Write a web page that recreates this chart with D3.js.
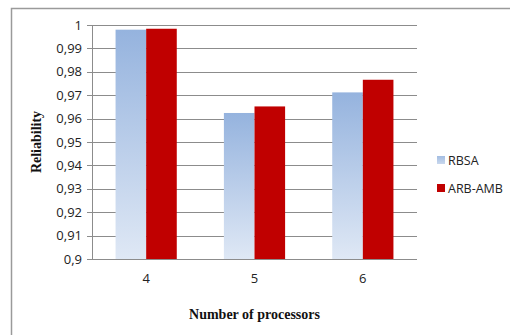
<!DOCTYPE html>
<html>
<head>
<meta charset="utf-8">
<script src="https://cdn.jsdelivr.net/npm/d3@7"></script>
<style>
  html, body { margin: 0; padding: 0; background: #fff; }
  svg { display: block; }
</style>
</head>
<body>
<svg id="chart" width="510" height="335"></svg>
<script>
// Reliability by processor count for the two scheduling approaches
const categories = ["4", "5", "6"];
const seriesNames = ["RBSA", "ARB-AMB"];
const rbsaValues = [0.998, 0.9624, 0.9712];
const arbAmbValues = [0.9984, 0.9652, 0.9766];
const yTicks = [0.9, 0.91, 0.92, 0.93, 0.94, 0.95, 0.96, 0.97, 0.98, 0.99, 1];

const svg = d3.select("#chart");
const W = 510, H = 335;
const plot = { left: 92, right: 417, top: 25, bottom: 259 };

// Outer chart frame
svg.append("rect")
  .attr("x", 11.5).attr("y", 8.5)
  .attr("width", W + 20).attr("height", H + 20)
  .attr("fill", "#fff").attr("stroke", "#9a9a9a").attr("stroke-width", 1.5);

const defs = svg.append("defs");
const grad = defs.append("linearGradient")
  .attr("id", "rbsaFill").attr("x1", 0).attr("y1", 0).attr("x2", 0).attr("y2", 1);
grad.append("stop").attr("offset", "0%").attr("stop-color", "#95b3de");
grad.append("stop").attr("offset", "100%").attr("stop-color", "#dfe8f5");
const legGrad = defs.append("linearGradient")
  .attr("id", "rbsaLegend").attr("x1", 0).attr("y1", 0).attr("x2", 0).attr("y2", 1);
legGrad.append("stop").attr("offset", "0%").attr("stop-color", "#a3bde2");
legGrad.append("stop").attr("offset", "100%").attr("stop-color", "#c9d8ee");

const x = d3.scaleBand().domain(categories).range([plot.left, plot.right]).paddingInner(0).paddingOuter(0);
const y = d3.scaleLinear().domain([0.9, 1]).range([plot.bottom, plot.top]);
const groupWidth = x.bandwidth() * 0.565;
const xs = d3.scaleBand().domain(seriesNames).range([0, groupWidth]);

const fmt = v => d3.format(".2~f")(v).replace(".", ",");

// Gridlines with tick stubs on the left
svg.append("g")
  .selectAll("line")
  .data(yTicks)
  .join("line")
  .attr("x1", plot.left - 5).attr("x2", plot.right)
  .attr("y1", d => Math.round(y(d)) + 0.5).attr("y2", d => Math.round(y(d)) + 0.5)
  .attr("stroke", "#8c8c8c").attr("stroke-width", 1);

// Vertical axis line
svg.append("line")
  .attr("x1", plot.left + 0.5).attr("x2", plot.left + 0.5)
  .attr("y1", y(1)).attr("y2", y(0.9))
  .attr("stroke", "#8c8c8c");

// Y tick labels
svg.append("g")
  .selectAll("text")
  .data(yTicks)
  .join("text")
  .attr("x", plot.left - 10)
  .attr("y", d => y(d))
  .attr("dy", "0.36em")
  .attr("text-anchor", "end")
  .attr("font-family", "'Open Sans', sans-serif")
  .attr("font-size", 13)
  .attr("fill", "#222")
  .text(fmt);

// Bars
const rows = categories.map((c, i) => ({ cat: c, values: [rbsaValues[i], arbAmbValues[i]] }));
const fills = ["url(#rbsaFill)", "#c00000"];
const groups = svg.append("g").selectAll("g")
  .data(rows)
  .join("g")
  .attr("transform", d => `translate(${x(d.cat) + (x.bandwidth() - groupWidth) / 2},0)`);
groups.selectAll("rect")
  .data(d => d.values.map((v, k) => ({ name: seriesNames[k], v, k })))
  .join("rect")
  .attr("x", d => xs(d.name))
  .attr("width", xs.bandwidth())
  .attr("y", d => y(d.v))
  .attr("height", d => y(0.9) - y(d.v))
  .attr("fill", d => fills[d.k]);

// Baseline drawn above the bars
svg.append("line")
  .attr("x1", plot.left - 5).attr("x2", plot.right)
  .attr("y1", Math.round(y(0.9)) + 0.5).attr("y2", Math.round(y(0.9)) + 0.5)
  .attr("stroke", "#8c8c8c");

// X category labels
svg.append("g").selectAll("text")
  .data(categories)
  .join("text")
  .attr("x", d => x(d) + x.bandwidth() / 2)
  .attr("y", 283)
  .attr("text-anchor", "middle")
  .attr("font-family", "'Open Sans', sans-serif")
  .attr("font-size", 13)
  .attr("fill", "#222")
  .text(d => d);

// Axis titles
svg.append("text")
  .attr("x", (plot.left + plot.right) / 2)
  .attr("y", 319)
  .attr("text-anchor", "middle")
  .attr("font-family", "'Liberation Serif', 'Times New Roman', serif")
  .attr("font-weight", "bold")
  .attr("font-size", 14)
  .attr("fill", "#111")
  .text("Number of processors");

svg.append("text")
  .attr("transform", `translate(41,${(plot.top + plot.bottom) / 2}) rotate(-90)`)
  .attr("text-anchor", "middle")
  .attr("font-family", "'Liberation Serif', 'Times New Roman', serif")
  .attr("font-weight", "bold")
  .attr("font-size", 14)
  .attr("fill", "#111")
  .text("Reliability");

// Legend
const legend = svg.append("g").selectAll("g")
  .data(seriesNames)
  .join("g")
  .attr("transform", (d, i) => `translate(437,${156 + i * 28})`);
legend.append("rect")
  .attr("width", 8).attr("height", 8)
  .attr("fill", (d, i) => i === 0 ? "url(#rbsaLegend)" : "#c00000");
legend.append("text")
  .attr("x", 11).attr("y", 4).attr("dy", "0.36em")
  .attr("font-family", "'Open Sans', sans-serif")
  .attr("font-size", 12.5)
  .attr("fill", "#222")
  .text(d => d);
</script>
</body>
</html>
